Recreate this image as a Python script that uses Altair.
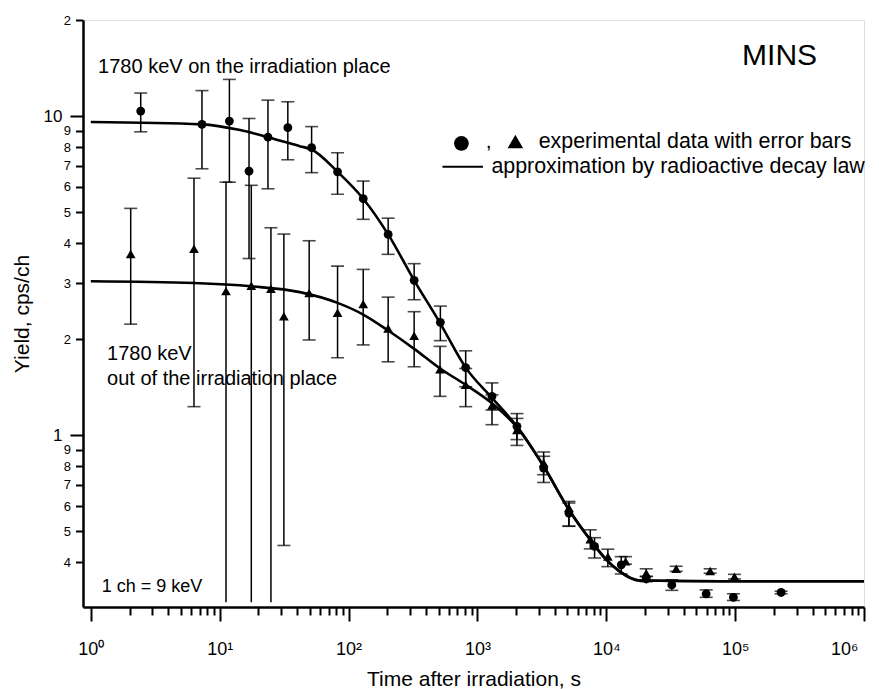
import altair as alt
import pandas as pd

# ---------------- data ----------------
# "on the irradiation place" (circles)
circ_t = [2.44, 7.29, 11.9, 16.9, 23.7, 33.8, 51.7, 82.2, 130, 203, 323, 516, 811, 1298,
          2028, 3266, 5130, 8115, 13070, 20420, 32260, 59600, 97000, 227500]
circ_y = [10.37, 9.42, 9.65, 6.72, 8.59, 9.20, 7.96, 6.69, 5.51, 4.26, 3.06, 2.26, 1.63, 1.325,
          1.067, 0.79, 0.571, 0.449, 0.393, 0.355, 0.340, 0.319, 0.311, 0.322]
circ_lo = [8.93, 6.84, 6.21, 3.58, 5.92, 7.30, 6.65, 5.69, 4.75, 3.69, 2.66, 1.98, 1.42, 1.20,
           0.97, 0.712, 0.519, 0.413, 0.368, 0.348, 0.327, 0.311, 0.304, 0.319]
circ_hi = [11.81, 12.02, 13.03, 9.83, 11.22, 11.09, 9.27, 7.68, 6.26, 4.79, 3.45, 2.54, 1.84, 1.46,
           1.17, 0.86, 0.614, 0.478, 0.417, 0.362, 0.353, 0.328, 0.319, 0.325]

# "out of the irradiation place" (triangles)
tri_t = [2.04, 6.32, 11.2, 17.6, 25.0, 31.5, 49.5, 82.2, 130, 203, 323, 513, 811, 1298,
         2028, 3266, 5130, 7516, 10290, 14120, 20420, 34900, 64000, 98800]
tri_y = [3.70, 3.84, 2.83, 2.94, 2.88, 2.36, 2.79, 2.42, 2.58, 2.16, 2.05, 1.61, 1.44, 1.24,
         1.04, 0.82, 0.593, 0.473, 0.417, 0.403, 0.370, 0.382, 0.376, 0.361]
tri_lo = [2.23, 1.23, 0.30, 0.30, 0.30, 0.452, 1.99, 1.75, 1.92, 1.70, 1.64, 1.325, 1.23, 1.08,
          0.93, 0.753, 0.52, 0.441, 0.388, 0.395, 0.361, 0.375, 0.370, 0.355]
tri_hi = [5.14, 6.39, 6.21, 6.07, 4.47, 4.27, 4.07, 3.39, 3.31, 2.71, 2.44, 1.90, 1.62, 1.34,
          1.13, 0.887, 0.621, 0.506, 0.44, 0.417, 0.382, 0.389, 0.382, 0.367]
tri_lo_cap = [True, True, False, False, False, True, True, True, True, True, True, True, True, True,
              True, True, True, True, True, True, True, True, True, True]

# approximation curves
fitc_t = [1.0, 7.29, 14.4, 23.7, 41.9, 51.7, 82.2, 130, 203, 323, 516, 811, 1298, 2028,
          3266, 5130, 7516, 10000, 12680, 18120, 75500, 1e6]
fitc_y = [9.58, 9.42, 9.04, 8.59, 8.05, 7.86, 6.69, 5.51, 4.26, 3.06, 2.24, 1.63, 1.31, 1.067,
          0.80, 0.585, 0.471, 0.408, 0.375, 0.351, 0.349, 0.349]
fitt_t = [1.0, 6.32, 17.6, 41.9, 82.2, 130, 203, 321, 513, 811, 1298, 2028,
          3266, 5130, 7516, 10000, 12680, 18120, 75500, 1e6]
fitt_y = [3.04, 3.00, 2.93, 2.81, 2.60, 2.39, 2.13, 1.87, 1.62, 1.44, 1.26, 1.06,
          0.80, 0.585, 0.471, 0.408, 0.375, 0.351, 0.349, 0.349]

x_ticks = [m * 10 ** k for k in range(6) for m in range(1, 10)] + [1000000]
y_ticks = [0.4, 0.5, 0.6, 0.7, 0.8, 0.9, 1, 2, 3, 4, 5, 6, 7, 8, 9, 10, 20]

FONT = "Liberation Sans"
W, H = 781, 587

xscale = alt.Scale(type="log", domain=[0.87, 1e6], nice=False)
yscale = alt.Scale(type="log", domain=[0.29, 20], nice=False)

major_test = "indexof([1,10,100,1000,10000,100000,1000000], datum.value) >= 0"
x_label_expr = ("datum.value == 1 ? '10⁰' : datum.value == 10 ? '10¹' : datum.value == 100 ? '10²' : "
                "datum.value == 1000 ? '10³' : datum.value == 10000 ? '10⁴' : "
                "datum.value == 100000 ? '10⁵' : datum.value == 1000000 ? '10⁶' : ''")
xaxis = alt.Axis(
    title="Time after irradiation, s", values=x_ticks, labelExpr=x_label_expr,
    grid=False, domainColor="black", domainWidth=2.5, tickColor="black", tickWidth=2,
    tickSize={"condition": {"test": major_test, "value": 14}, "value": 8},
    labelFont=FONT, labelFontSize=18, labelColor="black", labelPadding=19,
    labelFlush=4, labelFlushOffset=-6, labelOverlap=False,
    titleFont=FONT, titleFontSize=21, titleFontWeight="normal", titleColor="black",
    titleBaseline="alphabetic", titleY=78,
)
y_major_test = "datum.value == 1 || datum.value == 10"
yaxis = alt.Axis(
    title="Yield, cps/ch", values=y_ticks,
    labelExpr="datum.value == 20 ? '2' : datum.value >= 1 ? format(datum.value, 'd') : format(datum.value * 10, '.0f')",
    grid=False, domainColor="black", domainWidth=2.5, tickColor="black", tickWidth=2,
    tickSize={"condition": {"test": y_major_test, "value": 13}, "value": 7.5},
    labelPadding={"condition": {"test": y_major_test, "value": 8}, "value": 5},
    labelFontSize={"condition": {"test": y_major_test, "value": 17}, "value": 13},
    labelFont=FONT, labelColor="black", labelFlush=False, labelOverlap=False,
    titleFont=FONT, titleFontSize=21, titleFontWeight="normal", titleColor="black",
    titleX=-61, titleBaseline="middle",
)


def X(field="t"):
    return alt.X(f"{field}:Q", scale=xscale, axis=xaxis)


def Y(field="y"):
    return alt.Y(f"{field}:Q", scale=yscale, axis=yaxis)


circ = pd.DataFrame({"t": circ_t, "y": circ_y, "lo": circ_lo, "hi": circ_hi})
tri = pd.DataFrame({"t": tri_t, "y": tri_y, "lo": tri_lo, "hi": tri_hi, "locap": tri_lo_cap})

layers = []
for df in (circ, tri):
    layers.append(alt.Chart(df).mark_rule(color="black", strokeWidth=1.5).encode(
        x=X(), y=Y("lo"), y2="hi:Q"))
    layers.append(alt.Chart(df).mark_tick(orient="horizontal", size=13, thickness=1.6, color="black").encode(
        x=X(), y=Y("hi")))
circ_caps = alt.Chart(circ).mark_tick(orient="horizontal", size=13, thickness=1.6, color="black").encode(
    x=X(), y=Y("lo"))
tri_caps = alt.Chart(tri).mark_tick(orient="horizontal", size=13, thickness=1.6, color="black").encode(
    x=X(), y=Y("lo")).transform_filter("datum.locap")
layers += [circ_caps, tri_caps]

fitc = pd.DataFrame({"t": fitc_t, "y": fitc_y})
fitt = pd.DataFrame({"t": fitt_t, "y": fitt_y})
for df in (fitc, fitt):
    layers.append(alt.Chart(df).mark_line(color="black", strokeWidth=2.6, interpolate="monotone").encode(
        x=X(), y=Y()))

layers.append(alt.Chart(circ).mark_point(shape="circle", filled=True, size=78, color="black", opacity=1).encode(
    x=X(), y=Y()))
layers.append(alt.Chart(tri).mark_point(shape="triangle-up", filled=True, size=95, color="black", opacity=1).encode(
    x=X(), y=Y()))


def text_layer(t, y, txt, size):
    df = pd.DataFrame({"t": [t], "y": [y], "txt": [txt]})
    return alt.Chart(df).mark_text(align="left", baseline="alphabetic", font=FONT, fontSize=size,
                                   color="black").encode(x=X(), y=Y(), text="txt:N")


layers.append(text_layer(1.139, 13.61, "1780 keV on the irradiation place", 20))
layers.append(text_layer(1.338, 1.718, "1780 keV", 20))
layers.append(text_layer(1.338, 1.442, "out of the irradiation place", 20))
layers.append(text_layer(1.217, 0.3243, "1 ch = 9 keV", 18))
layers.append(text_layer(113300, 14.45, "MINS", 30))
layers.append(text_layer(1159, 7.92, ",", 21))
layers.append(text_layer(2987, 7.92, "experimental data with error bars", 21.4))
layers.append(text_layer(1284, 6.65, "approximation by radioactive decay law", 21.4))

leg_c = pd.DataFrame({"t": [751.5], "y": [8.21]})
leg_t = pd.DataFrame({"t": [1971], "y": [8.33]})
leg_l = pd.DataFrame({"t": [535.5], "t2": [1105], "y": [6.94]})
layers.append(alt.Chart(leg_c).mark_point(shape="circle", filled=True, size=215, color="black", opacity=1).encode(
    x=X(), y=Y()))
layers.append(alt.Chart(leg_t).mark_point(shape="triangle-up", filled=True, size=240, color="black", opacity=1).encode(
    x=X(), y=Y()))
layers.append(alt.Chart(leg_l).mark_rule(color="black", strokeWidth=2.2).encode(
    x=X(), x2="t2:Q", y=Y()))

chart = alt.layer(*layers).properties(
    width=W, height=H,
    autosize=alt.AutoSizeParams(type="none"),
    padding={"left": 75, "top": 12, "right": 7, "bottom": 84},
).configure_view(strokeWidth=0).configure(background="white")

chart.save("out.html", embed_options={"renderer": "svg", "actions": False})
